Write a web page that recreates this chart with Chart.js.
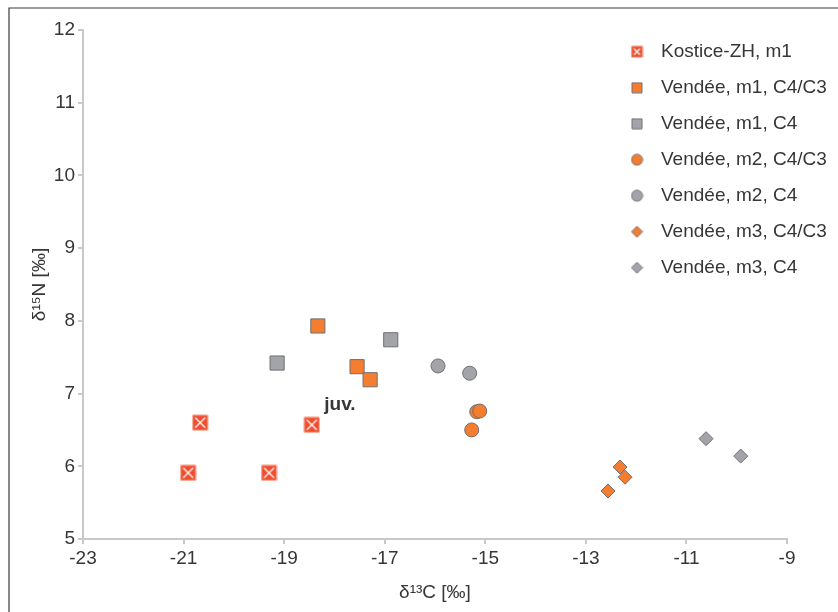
<!DOCTYPE html>
<html>
<head>
<meta charset="utf-8">
<script src="https://cdn.jsdelivr.net/npm/chart.js@4.4.1/dist/chart.umd.min.js"></script>
<style>
  html, body { margin: 0; padding: 0; background: #fff; }
  #wrap { width: 838px; height: 612px; position: relative; }
</style>
</head>
<body>
<div id="wrap"><canvas id="chart" width="838" height="612"></canvas></div>
<script>
const seriesNames = [
  "Kostice-ZH, m1",
  "Vendée, m1, C4/C3",
  "Vendée, m1, C4",
  "Vendée, m2, C4/C3",
  "Vendée, m2, C4",
  "Vendée, m3, C4/C3",
  "Vendée, m3, C4"
];

const kosticeM1X = [-20.91, -20.67, -19.30, -18.45];
const kosticeM1Y = [5.91, 6.60, 5.91, 6.57];
const vendeeM1C4C3X = [-18.33, -17.55, -17.29];
const vendeeM1C4C3Y = [7.93, 7.37, 7.19];
const vendeeM1C4X = [-19.14, -16.88];
const vendeeM1C4Y = [7.42, 7.74];
const vendeeM2C4C3X = [-15.27, -15.17, -15.11];
const vendeeM2C4C3Y = [6.50, 6.75, 6.76];
const vendeeM2C4X = [-15.94, -15.31];
const vendeeM2C4Y = [7.38, 7.28];
const vendeeM3C4C3X = [-12.32, -12.22, -12.56];
const vendeeM3C4C3Y = [5.99, 5.85, 5.66];
const vendeeM3C4X = [-10.61, -9.92];
const vendeeM3C4Y = [6.38, 6.14];

const juvLabel = [-17.89, 6.84];

const xTitle = "δ¹³C [‰]";
const yTitle = "δ¹⁵N [‰]";

const RED = "#ef4e2e";
const ORANGE = "#f47d30";
const GREY = "#a3a4aa";
const EDGE = "#707075";
const TEXT = "#363636";
const AXIS = "#c9c9c9";
const FONT = "'Liberation Sans', Arial, sans-serif";

function toPoints(xs, ys) {
  return xs.map((x, i) => ({ x: x, y: ys[i] }));
}

// small canvas markers, used for the Kostice points and the legend
function makeMarker(shape, size, fill, stroke, cross) {
  const c = document.createElement("canvas");
  c.width = size + 2;
  c.height = size + 2;
  const g = c.getContext("2d");
  const m = (size + 2) / 2, h = size / 2;
  g.fillStyle = fill;
  g.strokeStyle = stroke;
  g.lineWidth = 1;
  g.beginPath();
  if (shape === "rect") g.rect(m - h, m - h, size, size);
  else if (shape === "circle") g.arc(m, m, h, 0, Math.PI * 2);
  else {
    g.moveTo(m, m - h); g.lineTo(m + h, m); g.lineTo(m, m + h); g.lineTo(m - h, m); g.closePath();
  }
  g.fill();
  g.stroke();
  if (cross) {
    const k = h - 2.5;
    g.strokeStyle = "#ffffff";
    g.lineWidth = 1.3;
    g.beginPath();
    g.moveTo(m - k, m - k); g.lineTo(m + k, m + k);
    g.moveTo(m + k, m - k); g.lineTo(m - k, m + k);
    g.stroke();
  }
  return c;
}

const kosticePoint = makeMarker("rect", 15, RED, "rgba(245,150,130,0.9)", true);
const legendMarkers = [
  makeMarker("rect", 11, RED, "rgba(245,150,130,0.9)", true),
  makeMarker("rect", 10, ORANGE, EDGE),
  makeMarker("rect", 10, GREY, EDGE),
  makeMarker("circle", 11, ORANGE, EDGE),
  makeMarker("circle", 11, GREY, EDGE),
  makeMarker("diamond", 11, ORANGE, EDGE),
  makeMarker("diamond", 11, GREY, EDGE)
];

const frame = {
  id: "frame",
  beforeDraw(chart) {
    const ctx = chart.ctx;
    ctx.save();
    ctx.strokeStyle = "#3a3a3a";
    ctx.lineWidth = 1.2;
    ctx.beginPath();
    ctx.moveTo(9, 612);
    ctx.lineTo(9, 8);
    ctx.lineTo(838, 8);
    ctx.stroke();
    ctx.restore();
  }
};

const juvText = {
  id: "juvText",
  afterDatasetsDraw(chart) {
    const ctx = chart.ctx;
    ctx.save();
    ctx.font = "bold 19px " + FONT;
    ctx.fillStyle = TEXT;
    ctx.textAlign = "center";
    ctx.textBaseline = "middle";
    ctx.fillText("juv.", chart.scales.x.getPixelForValue(juvLabel[0]), chart.scales.y.getPixelForValue(juvLabel[1]));
    ctx.restore();
  }
};

// put the legend box in the top right corner of the plot
const legendPlace = {
  id: "legendPlace",
  afterLayout(chart) {
    const lg = chart.legend;
    lg.left = 605.5;
    lg.right = lg.left + lg.width;
    lg.top = 25.2;
    lg.bottom = lg.top + lg.height;
  }
};

function ds(label, xs, ys, style, radius, fill) {
  return {
    label: label,
    data: toPoints(xs, ys),
    pointStyle: style,
    pointRadius: radius,
    pointHoverRadius: radius,
    backgroundColor: fill,
    borderColor: EDGE,
    borderWidth: 1
  };
}

new Chart(document.getElementById("chart"), {
  type: "scatter",
  data: {
    datasets: [
      ds(seriesNames[0], kosticeM1X, kosticeM1Y, kosticePoint, 8, RED),
      ds(seriesNames[1], vendeeM1C4C3X, vendeeM1C4C3Y, "rect", 10, ORANGE),
      ds(seriesNames[2], vendeeM1C4X, vendeeM1C4Y, "rect", 10, GREY),
      ds(seriesNames[3], vendeeM2C4C3X, vendeeM2C4C3Y, "circle", 7, ORANGE),
      ds(seriesNames[4], vendeeM2C4X, vendeeM2C4Y, "circle", 7, GREY),
      ds(seriesNames[5], vendeeM3C4C3X, vendeeM3C4C3Y, "rectRot", 7, ORANGE),
      ds(seriesNames[6], vendeeM3C4X, vendeeM3C4Y, "rectRot", 7, GREY)
    ]
  },
  options: {
    responsive: false,
    animation: false,
    devicePixelRatio: 1,
    layout: { padding: { top: 30, right: 51, left: 0, bottom: 0 } },
    plugins: {
      tooltip: { enabled: false },
      legend: {
        position: "chartArea",
        align: "start",
        labels: {
          usePointStyle: true,
          pointStyleWidth: 29,
          padding: 17,
          color: TEXT,
          font: { family: FONT, size: 19 },
          generateLabels(chart) {
            const items = Chart.defaults.plugins.legend.labels.generateLabels(chart);
            return items.map((it, i) => Object.assign(it, { pointStyle: legendMarkers[i] }));
          }
        }
      }
    },
    scales: {
      x: {
        type: "linear",
        min: -23,
        max: -9,
        afterFit(s) { s.height = 73; },
        ticks: { stepSize: 2, maxRotation: 0, padding: 3, color: TEXT, font: { family: FONT, size: 19 } },
        grid: { drawOnChartArea: false, drawTicks: true, tickLength: 5, color: AXIS, lineWidth: 2 },
        border: { color: AXIS, width: 2 },
        title: { display: true, text: xTitle, color: TEXT, font: { family: FONT, size: 19 }, padding: { top: 0, bottom: 7.6 } }
      },
      y: {
        type: "linear",
        min: 5,
        max: 12,
        afterFit(s) { s.width = 83; },
        ticks: { stepSize: 1, padding: 3, color: TEXT, font: { family: FONT, size: 19 } },
        grid: { drawOnChartArea: false, drawTicks: true, tickLength: 5, color: AXIS, lineWidth: 2 },
        border: { color: AXIS, width: 2 },
        title: { display: true, text: yTitle, color: TEXT, font: { family: FONT, size: 19 }, padding: { top: 28.6, bottom: 0 } }
      }
    }
  },
  plugins: [frame, juvText, legendPlace]
});
</script>
</body>
</html>
